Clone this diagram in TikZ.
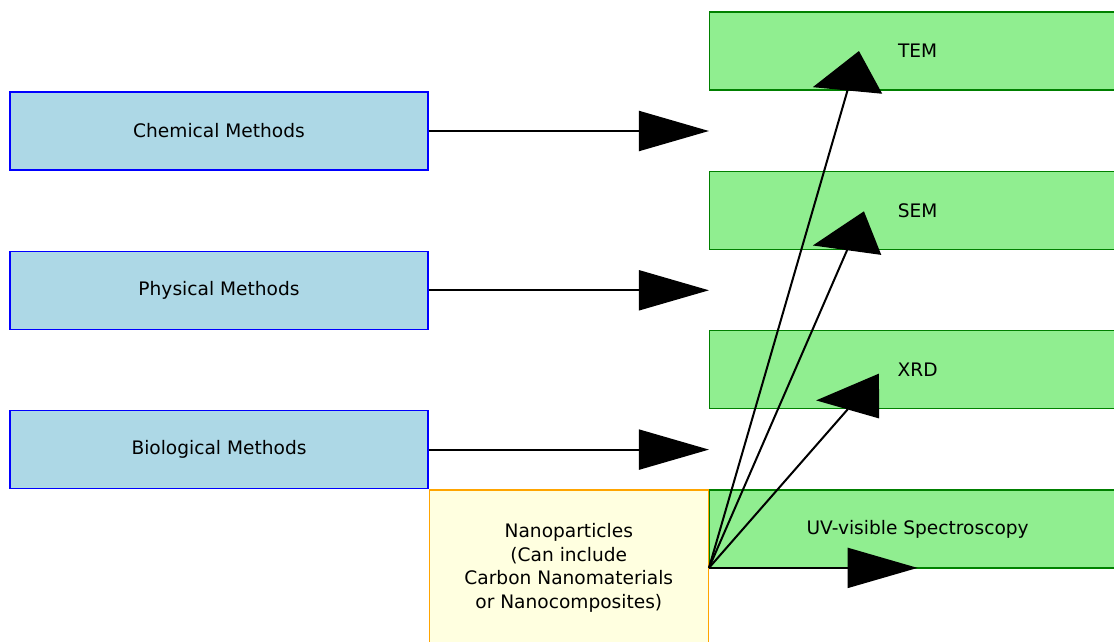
\documentclass[tikz,border=0pt]{standalone}
\usepackage{fontspec}
\setmainfont{DejaVu Sans}
\usetikzlibrary{arrows.meta,positioning,calc}
\definecolor{method}{HTML}{ADD8E6}
\definecolor{technique}{HTML}{90EE90}
\definecolor{particle}{HTML}{FFFFE0}
\definecolor{methodline}{HTML}{0000FF}
\definecolor{techline}{HTML}{008000}
\definecolor{particleline}{HTML}{FFA500}
\tikzset{
  every node/.style={font=\fontsize{18.6}{23.7}\selectfont,text=black},
  box/.style={draw,line width=1.3pt,align=center,inner sep=0pt,minimum height=78pt},
  methodbox/.style={box,fill=method,draw=methodline,minimum width=418pt},
  techbox/.style={box,fill=technique,draw=techline,minimum width=416pt},
  particlebox/.style={box,fill=particle,draw=particleline,minimum width=279pt,minimum height=156pt},
  arrow/.style={line width=2pt,-{Triangle[length=70pt,width=40pt]}},
  tiltarr/.style n args={3}{line width=2pt,-{Triangle[length=#1,width=#2,slant=#3]}},
}

\begin{document}
\begin{tikzpicture}[x=1pt,y=-1pt,node distance=80pt]
\useasboundingbox (0,0) rectangle (1114,642);
% synthesis routes
\node[methodbox] (chem) at (219,131) {Chemical Methods};
\node[methodbox,below=of chem] (phys) {Physical Methods};
\node[methodbox,below=of phys] (bio) {Biological Methods};
\node[particlebox,anchor=north west] (nano) at (bio.south east) {Nanoparticles\\(Can include\\Carbon Nanomaterials\\or Nanocomposites)};
% characterisation
\node[techbox,anchor=north west] (uv) at (nano.north east) {UV-visible Spectroscopy};
\node[techbox,above=of uv] (xrd) {XRD};
\node[techbox,above=of xrd] (sem) {SEM};
\node[techbox,above=of sem] (tem) {TEM};
\foreach \src in {chem,phys,bio}
  \draw[arrow] (\src.east) -- (\src.east -| uv.west);
\coordinate (temtip) at ($(tem.west)+(150,0)$);
\coordinate (semtip) at ($(sem.west)+(155,1)$);
\coordinate (xrdtip) at ($(xrd.west)+(170,4)$);
\coordinate (uvtip) at (nano.east -| uv.center);
\draw[tiltarr={41.1pt}{68.1pt}{-0.19}] (nano.east) -- (temtip);
\draw[tiltarr={42.4pt}{66.1pt}{-0.28}] (nano.east) -- (semtip);
\draw[tiltarr={47.6pt}{58.8pt}{-0.47}] (nano.east) -- (xrdtip);
\draw[arrow] (nano.east) -- (uvtip);
\end{tikzpicture}
\end{document}
